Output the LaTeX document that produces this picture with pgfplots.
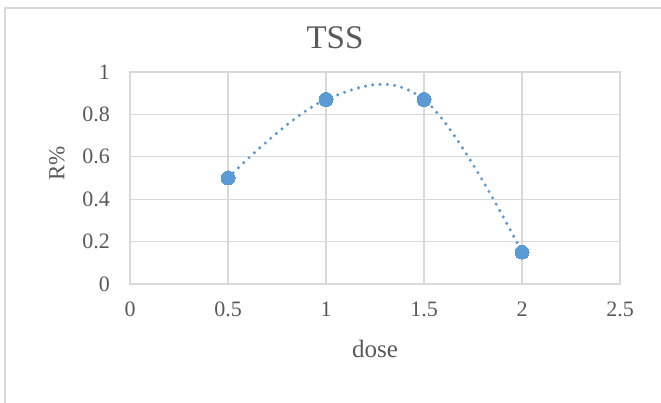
\documentclass[border=0pt]{standalone}
\usepackage{pgfplots}
\pgfplotsset{compat=1.18}
\usepackage{fontspec}
\setmainfont{Liberation Serif}
\definecolor{txtgray}{HTML}{595959}
\definecolor{gridgray}{HTML}{D9D9D9}
\definecolor{ptblue}{HTML}{5B9BD5}
\begin{document}
\begin{tikzpicture}
\useasboundingbox (0pt,0pt) rectangle (661pt,403pt);
% chart frame
\draw[gridgray, line width=1.3pt] (5pt,-5pt) -- (5pt,395pt) -- (670pt,395pt);
\begin{axis}[
  at={(130pt,119pt)}, anchor=south west,
  scale only axis, width=490pt, height=212pt,
  xmin=0, xmax=2.5, ymin=0, ymax=1,
  xtick={0,0.5,1,1.5,2,2.5},
  ytick={0,0.2,0.4,0.6,0.8,1},
  grid=major, major grid style={gridgray, line width=1.2pt},
  axis line style={gridgray, line width=1.2pt},
  tick style={draw=none},
  /pgf/number format/assume math mode=true,
  ticklabel style={font=\fontsize{22}{26}\selectfont, text=txtgray, inner sep=0pt},
  xticklabel style={anchor=base, yshift=-33pt},
  yticklabel style={anchor=east, xshift=-20pt},
  title={TSS},
  title style={font=\fontsize{33}{38}\selectfont, text=txtgray,
    at={(0.5,1)}, anchor=base, yshift=17pt, xshift=-40pt},
  xlabel={dose},
  xlabel style={font=\fontsize{25}{30}\selectfont, text=txtgray,
    at={(0.5,0)}, anchor=base, yshift=-74pt},
  ylabel={R\%},
  ylabel style={font=\fontsize{23}{28}\selectfont, text=txtgray,
    at={(0,0.57)}, anchor=center, yshift=73pt},
]
\addplot[ptblue, smooth, tension=0.62, line width=3.4pt, line cap=round,
  dash pattern=on 0pt off 7.3pt,
  mark=*, mark size=7pt, mark options={solid, fill=ptblue, draw=ptblue, line width=0pt}]
  coordinates {(0.5,0.50) (1,0.87) (1.5,0.87) (2,0.15)};
\end{axis}
\end{tikzpicture}
\end{document}
